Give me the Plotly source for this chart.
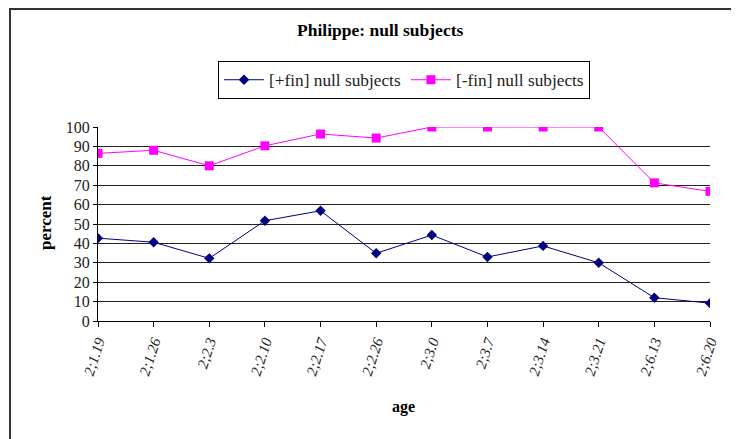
import plotly.graph_objects as go

ages = ["2;1.19", "2;1.26", "2;2.3", "2;2.10", "2;2.17", "2;2.26", "2;3.0",
        "2;3.7", "2;3.14", "2;3.21", "2;6.13", "2;6.20"]
fin_plus = [42.7, 40.6, 32.3, 51.7, 56.8, 34.9, 44.3, 33.0, 38.7, 30.0, 12.0, 9.2]
fin_minus = [86.4, 88.0, 80.0, 90.3, 96.4, 94.3, 100, 100, 100, 100, 71.2, 66.8]

FONT = "Liberation Serif"

fig = go.Figure()
fig.add_trace(go.Scatter(
    x=list(range(len(ages))), y=fin_plus, mode="lines+markers",
    name="[+fin] null subjects",
    line=dict(color="#000080", width=1),
    marker=dict(symbol="diamond", size=8, color="#000080"),
))
fig.add_trace(go.Scatter(
    x=list(range(len(ages))), y=fin_minus, mode="lines+markers",
    name="[-fin] null subjects",
    line=dict(color="#FF00FF", width=1),
    marker=dict(symbol="square", size=9, color="#FF00FF"),
))

# page body has an 8px margin: figure coords = screen coords - 8
OFF = 8
L, R, T, B = 98 - OFF, 710 - OFF, 127 - OFF, 321 - OFF
W, H = 739, 439
pw, ph = R - L, B - T

def px(x):
    return (x - OFF - L) / pw

def py(y):
    return (B - (y - OFF)) / ph

fig.update_layout(
    width=W, height=H,
    margin=dict(l=L, r=W - R, t=T, b=H - B, pad=0),
    paper_bgcolor="white", plot_bgcolor="white",
    font=dict(family=FONT, color="#000", size=16),
    showlegend=True,
    legend=dict(
        orientation="h", x=px(218), y=py(61), xanchor="left", yanchor="top",
        bordercolor="#000", borderwidth=1, bgcolor="white",
        font=dict(family=FONT, size=17.3, color="#222"),
        itemwidth=40, tracegroupgap=0,
    ),
    xaxis=dict(
        range=[0, len(ages) - 1], tickmode="array",
        tickvals=list(range(len(ages))), ticktext=ages,
        tickangle=-72, ticks="outside", ticklen=5, tickcolor="#000",
        showline=True, linecolor="#000", linewidth=1,
        showgrid=False, zeroline=False,
        tickfont=dict(family=FONT, size=15, style="italic", color="#222"),
    ),
    yaxis=dict(
        range=[0, 100], tickmode="linear", tick0=0, dtick=10,
        ticks="outside", ticklen=4, tickcolor="#000",
        showline=True, linecolor="#000", linewidth=1,
        showgrid=True, gridcolor="#222", gridwidth=1, zeroline=False,
        tickfont=dict(family=FONT, size=16, color="#222"),
    ),
    annotations=[
        dict(text="<b>Philippe: null subjects</b>", x=px(380), y=py(30),
             xref="paper", yref="paper", xanchor="center", yanchor="middle",
             showarrow=False, font=dict(family=FONT, size=17.5, color="#000")),
        dict(text="<b>age</b>", x=px(403), y=py(407),
             xref="paper", yref="paper", xanchor="center", yanchor="middle",
             showarrow=False, font=dict(family=FONT, size=16, color="#000")),
        dict(text="<b>percent</b>", x=px(45), y=py(223), textangle=-90,
             xref="paper", yref="paper", xanchor="center", yanchor="middle",
             showarrow=False, font=dict(family=FONT, size=17, color="#000")),
    ],
    shapes=[dict(
        type="rect", xref="paper", yref="paper", layer="below",
        x0=px(10), x1=px(780), y0=py(480), y1=py(9),
        line=dict(color="#333", width=2), fillcolor="rgba(0,0,0,0)",
    )],
)

fig.write_html("out.html")
